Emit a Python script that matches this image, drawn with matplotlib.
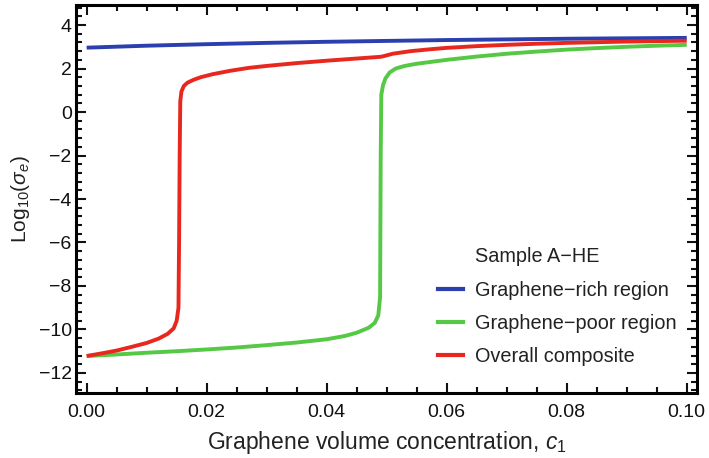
import matplotlib
matplotlib.use("Agg")
import matplotlib.pyplot as plt
from matplotlib.lines import Line2D
from matplotlib.ticker import MultipleLocator, FuncFormatter

plt.rcParams['font.family'] = ['Liberation Sans', 'DejaVu Sans']
plt.rcParams['mathtext.fontset'] = 'custom'
plt.rcParams['mathtext.rm'] = 'Liberation Sans'
plt.rcParams['mathtext.it'] = 'Liberation Sans:italic'
plt.rcParams['axes.unicode_minus'] = True

# log10 conductivity vs graphene volume fraction
rich_c = [0.0, 0.01, 0.02, 0.03, 0.04, 0.05, 0.06, 0.07, 0.08, 0.09, 0.1]
rich_s = [2.96, 3.05, 3.12, 3.18, 3.23, 3.27, 3.31, 3.34, 3.37, 3.39, 3.41]

poor_c = [0.0, 0.005, 0.01, 0.015, 0.02, 0.025, 0.03, 0.035, 0.04, 0.043, 0.045,
          0.047, 0.048, 0.0486, 0.0489, 0.0490, 0.0491, 0.0494, 0.0498, 0.0505,
          0.0515, 0.053, 0.055, 0.06, 0.065, 0.07, 0.075, 0.08, 0.085, 0.09,
          0.095, 0.1]
poor_s = [-11.22, -11.15, -11.07, -11.0, -10.92, -10.83, -10.72, -10.6, -10.45,
          -10.3, -10.15, -9.92, -9.7, -9.35, -8.5, -2.0, 0.8, 1.25, 1.55, 1.82,
          2.0, 2.12, 2.22, 2.4, 2.55, 2.68, 2.78, 2.87, 2.94, 3.0, 3.05, 3.09]

all_c = [0.0, 0.0025, 0.005, 0.0075, 0.01, 0.012, 0.0135, 0.0145, 0.015, 0.0153,
         0.0154, 0.0155, 0.0156, 0.0158, 0.0162, 0.0168, 0.0178, 0.019, 0.021,
         0.024, 0.027, 0.03, 0.035, 0.04, 0.045, 0.049, 0.0495, 0.051, 0.054,
         0.057, 0.06, 0.065, 0.07, 0.075, 0.08, 0.085, 0.09, 0.095, 0.1]
all_s = [-11.22, -11.1, -10.97, -10.8, -10.62, -10.42, -10.2, -9.95, -9.6, -9.0,
         -6.0, -2.0, 0.5, 0.95, 1.2, 1.35, 1.48, 1.6, 1.74, 1.9, 2.03, 2.12,
         2.25, 2.36, 2.46, 2.54, 2.57, 2.68, 2.8, 2.88, 2.95, 3.03, 3.09, 3.14,
         3.18, 3.21, 3.24, 3.26, 3.28]

labels = ['Graphene\u2212rich region', 'Graphene\u2212poor region', 'Overall composite']
colors = ['#2b3fae', '#55c845', '#e8281f']

fig = plt.figure(figsize=(7.09, 4.58), dpi=100)
ax = fig.add_axes([0.107, 0.142, 0.876, 0.847])

for c, s, col in zip([rich_c, poor_c, all_c], [rich_s, poor_s, all_s], colors):
    ax.plot(c, s, color=col, lw=2.8, solid_capstyle='butt', solid_joinstyle='round')

ax.set_xlim(-0.0018, 0.1017)
ax.set_ylim(-12.92, 4.92)

ax.xaxis.set_major_locator(MultipleLocator(0.02))
ax.xaxis.set_minor_locator(MultipleLocator(0.005))
ax.yaxis.set_major_locator(MultipleLocator(2))
ax.yaxis.set_minor_locator(MultipleLocator(0.4))
ax.xaxis.set_major_formatter(FuncFormatter(lambda v, p: f'{v:.2f}'))
ax.yaxis.set_major_formatter(FuncFormatter(lambda v, p: f'{v:.0f}'.replace('-', '\u2212')))

ax.tick_params(which='both', direction='in', top=True, right=True, width=1.5,
               labelsize=14, colors='#111111')
ax.tick_params(which='major', length=7)
ax.tick_params(which='minor', length=4)
ax.tick_params(axis='x', which='major', pad=8)
ax.tick_params(axis='y', which='major', pad=3)
for sp in ax.spines.values():
    sp.set_linewidth(2.2)

ax.set_xlabel('Graphene volume concentration, $c_1$', fontsize=16.5, color='#222222', labelpad=6)
ax.set_ylabel(r'Log$_{10}$($\sigma_e$)', fontsize=15, color='#222222', labelpad=5)

handles = [Line2D([], [], color='none')]
handles += [Line2D([], [], color=col, lw=3) for col in colors]
leg = ax.legend(handles, ['Sample A\u2212HE'] + labels, loc='lower left',
                bbox_to_anchor=(0.555, 0.023), frameon=False, fontsize=14.3,
                handlelength=1.25, handletextpad=0.6, labelspacing=0.72)
for t in leg.get_texts():
    t.set_color('#222222')

fig.savefig('out.png', dpi=100)
